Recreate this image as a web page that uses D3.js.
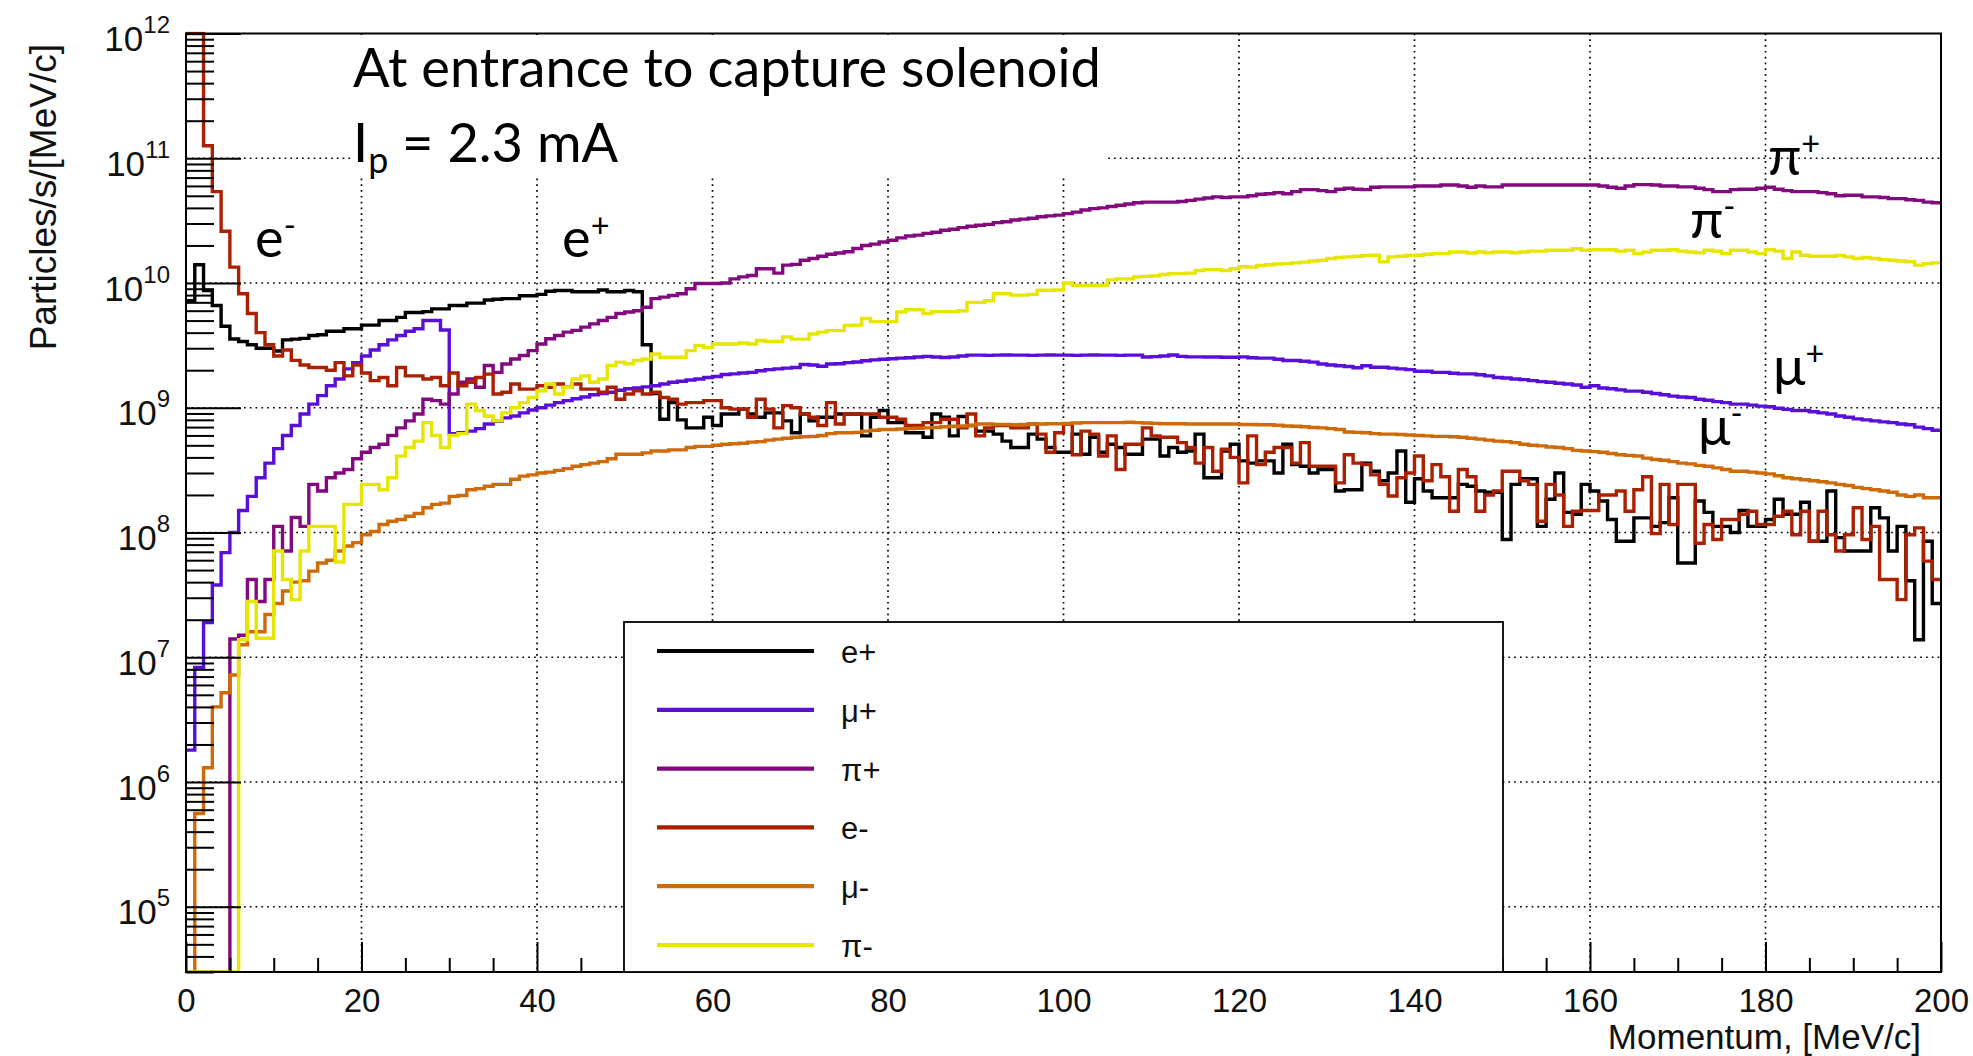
<!DOCTYPE html>
<html><head><meta charset="utf-8">
<script src="https://cdn.jsdelivr.net/npm/d3@7"></script>
<style>body{margin:0;background:#fff;} svg{display:block;}</style>
</head><body>
<svg id="chart" width="1973" height="1056"></svg>
<script>
// ---------------- DATA (1 MeV/c bins, 0..200) ----------------
const momentumDomain = [0, 200];
const xTickLabels = [0, 20, 40, 60, 80, 100, 120, 140, 160, 180, 200];
const yTickExponents = [5, 6, 7, 8, 9, 10, 11, 12];
const seriesNames = ["e+", "μ+", "π+", "e-", "μ-", "π-"];

const ePlus = [
7.2e9,1.4e10,8.7e9,6.6e9,4.5e9,3.56e9,3.4e9,3.2e9,3.0e9,3.0e9,
2.85e9,3.5e9,3.55e9,3.6e9,3.8e9,3.85e9,4.1e9,4.1e9,4.3e9,4.3e9,
4.6e9,4.6e9,5.0e9,5.0e9,5.3e9,5.8e9,5.8e9,5.9e9,6.2e9,6.2e9,
6.6e9,6.6e9,6.9e9,6.9e9,7.3e9,7.4e9,7.5e9,7.5e9,7.9e9,7.9e9,
8.1e9,8.6e9,8.7e9,8.7e9,8.5e9,8.5e9,8.5e9,8.8e9,8.5e9,8.5e9,
8.7e9,8.5e9,3.2e9,1.3e9,8.1e8,1.1e9,8.0e8,6.9e8,6.9e8,8.4e8,
7.2e8,8.9e8,8.9e8,9.75e8,8.9e8,8.4e8,9.1e8,9.1e8,7.85e8,6.3e8,
8.9e8,7.85e8,8.4e8,8.4e8,8.9e8,8.9e8,8.9e8,5.95e8,8.4e8,9.5e8,
7.6e8,7.6e8,6.3e8,6.3e8,5.8e8,8.9e8,8.4e8,5.95e8,8.5e8,7.2e8,
6.5e8,6.5e8,6.15e8,5.4e8,4.8e8,4.8e8,6.15e8,5.6e8,4.8e8,4.4e8,
4.4e8,6.15e8,4.24e8,5.8e8,4.4e8,5.1e8,4.8e8,4.24e8,4.24e8,5.6e8,
5.6e8,4.1e8,4.8e8,4.4e8,4.5e8,6.15e8,2.75e8,2.75e8,4.5e8,5.1e8,
3.75e8,3.6e8,3.75e8,3.75e8,3.0e8,5.1e8,3.5e8,3.4e8,3.0e8,3.2e8,
3.2e8,2.15e8,2.2e8,2.2e8,3.6e8,3.1e8,2.6e8,3.0e8,4.5e8,1.75e8,
2.7e8,2.15e8,1.9e8,1.9e8,1.9e8,2.43e8,2.35e8,2.15e8,2.1e8,2.1e8,
8.8e7,2.43e8,2.7e8,2.7e8,1.12e8,1.85e8,3.0e8,1.45e8,1.4e8,2.43e8,
2.15e8,1.79e8,1.27e8,8.5e7,8.5e7,1.31e8,1.31e8,1.12e8,1.2e8,1.9e8,
5.7e7,5.7e7,1.79e8,1.45e8,1.12e8,1.12e8,1.0e8,1.5e8,1.12e8,1.12e8,
1.27e8,1.85e8,1.4e8,1.4e8,1.75e8,8.5e7,8.5e7,2.15e8,9.1e7,7.1e7,
7.1e7,7.1e7,1.58e8,1.31e8,7.1e7,1.12e8,4.1e7,1.38e7,8.5e7,2.7e7
];

const muPlus = [
1.8e6,8.3e6,1.9e7,3.8e7,6.9e7,1.0e8,1.5e8,1.95e8,2.75e8,3.6e8,
4.7e8,6.0e8,7.2e8,8.9e8,1.07e9,1.25e9,1.5e9,1.7e9,2.05e9,2.3e9,
2.6e9,2.9e9,3.2e9,3.5e9,3.8e9,4.1e9,4.3e9,5.0e9,5.0e9,4.2e9,
6.2e8,6.3e8,6.5e8,6.8e8,7.4e8,7.8e8,8.3e8,8.6e8,9.1e8,9.6e8,
1.0e9,1.05e9,1.1e9,1.14e9,1.18e9,1.22e9,1.27e9,1.3e9,1.33e9,1.38e9,
1.42e9,1.44e9,1.47e9,1.5e9,1.55e9,1.6e9,1.63e9,1.67e9,1.7e9,1.75e9,
1.78e9,1.85e9,1.87e9,1.9e9,1.92e9,1.98e9,2.02e9,2.05e9,2.08e9,2.1e9,
2.22e9,2.2e9,2.15e9,2.24e9,2.25e9,2.3e9,2.33e9,2.38e9,2.42e9,2.45e9,
2.47e9,2.5e9,2.52e9,2.55e9,2.58e9,2.55e9,2.53e9,2.55e9,2.6e9,2.64e9,
2.64e9,2.63e9,2.64e9,2.65e9,2.64e9,2.64e9,2.63e9,2.64e9,2.65e9,2.64e9,
2.64e9,2.63e9,2.64e9,2.65e9,2.64e9,2.64e9,2.63e9,2.64e9,2.64e9,2.55e9,
2.57e9,2.6e9,2.65e9,2.58e9,2.56e9,2.56e9,2.55e9,2.55e9,2.54e9,2.54e9,
2.56e9,2.52e9,2.5e9,2.5e9,2.45e9,2.39e9,2.39e9,2.36e9,2.32e9,2.24e9,
2.2e9,2.17e9,2.14e9,2.09e9,2.17e9,2.11e9,2.11e9,2.08e9,2.05e9,2.02e9,
1.96e9,1.96e9,1.92e9,1.92e9,1.89e9,1.87e9,1.87e9,1.84e9,1.8e9,1.75e9,
1.73e9,1.7e9,1.68e9,1.65e9,1.62e9,1.6e9,1.57e9,1.55e9,1.52e9,1.46e9,
1.5e9,1.44e9,1.42e9,1.39e9,1.36e9,1.36e9,1.33e9,1.3e9,1.27e9,1.24e9,
1.22e9,1.21e9,1.17e9,1.15e9,1.12e9,1.1e9,1.07e9,1.07e9,1.05e9,1.03e9,
1.02e9,9.9e8,9.7e8,9.5e8,9.5e8,9.3e8,9.1e8,8.9e8,8.6e8,8.4e8,
8.15e8,8.0e8,7.85e8,7.7e8,7.6e8,7.4e8,7.3e8,7.0e8,6.8e8,6.6e8
];

const piPlus = [
0,0,0,0,0,1.4e7,1.5e7,4.2e7,2.8e7,4.2e7,
1.12e8,7.1e7,1.32e8,1.12e8,2.43e8,2.15e8,2.75e8,3.0e8,3.2e8,3.9e8,
4.4e8,4.8e8,5.1e8,6.0e8,6.9e8,7.85e8,8.9e8,1.17e9,1.14e9,1.07e9,
1.29e9,1.6e9,1.7e9,1.46e9,2.18e9,1.92e9,2.24e9,2.46e9,2.62e9,2.87e9,
3.24e9,3.57e9,3.8e9,4.04e9,4.17e9,4.43e9,4.7e9,5.0e9,5.3e9,5.7e9,
5.85e9,6.0e9,6.4e9,7.5e9,7.7e9,7.95e9,8.2e9,9.0e9,9.9e9,9.9e9,
9.9e9,1.0e10,1.08e10,1.12e10,1.15e10,1.3e10,1.3e10,1.2e10,1.39e10,1.41e10,
1.52e10,1.57e10,1.64e10,1.7e10,1.74e10,1.78e10,1.89e10,2.0e10,2.05e10,2.13e10,
2.2e10,2.3e10,2.38e10,2.42e10,2.5e10,2.55e10,2.65e10,2.7e10,2.78e10,2.85e10,
2.9e10,2.95e10,3.05e10,3.1e10,3.2e10,3.25e10,3.3e10,3.4e10,3.45e10,3.5e10,
3.6e10,3.7e10,3.85e10,3.95e10,4.0e10,4.1e10,4.2e10,4.3e10,4.4e10,4.45e10,
4.45e10,4.45e10,4.45e10,4.5e10,4.6e10,4.7e10,4.8e10,4.9e10,4.85e10,4.9e10,
4.9e10,5.0e10,5.15e10,5.2e10,5.3e10,5.2e10,5.4e10,5.6e10,5.6e10,5.5e10,
5.4e10,5.65e10,5.75e10,5.65e10,5.6e10,5.85e10,5.9e10,5.9e10,5.9e10,5.9e10,
6.0e10,6.0e10,6.0e10,6.1e10,6.1e10,6.0e10,5.85e10,6.0e10,5.9e10,5.9e10,
6.1e10,6.1e10,6.1e10,6.1e10,6.1e10,6.1e10,6.1e10,6.1e10,6.1e10,6.1e10,
6.1e10,6.0e10,5.85e10,5.75e10,6.0e10,6.15e10,6.15e10,6.1e10,6.0e10,6.0e10,
5.9e10,5.9e10,5.75e10,5.6e10,5.4e10,5.4e10,5.6e10,5.65e10,5.65e10,5.75e10,
5.85e10,5.65e10,5.5e10,5.4e10,5.4e10,5.4e10,5.3e10,5.2e10,5.0e10,5.05e10,
5.05e10,4.9e10,4.9e10,4.85e10,4.75e10,4.75e10,4.65e10,4.6e10,4.45e10,4.4e10
];

const eMinus = [
1e12,1e12,1.26e11,5.4e10,2.6e10,1.34e10,8.2e9,5.7e9,4.0e9,3.2e9,
2.6e9,2.9e9,2.4e9,2.2e9,2.1e9,2.1e9,2.0e9,2.3e9,1.8e9,2.2e9,
1.9e9,1.65e9,1.75e9,1.5e9,2.1e9,1.8e9,1.8e9,1.7e9,1.75e9,1.5e9,
1.9e9,1.5e9,1.6e9,1.75e9,1.86e9,1.29e9,1.33e9,1.55e9,1.41e9,1.41e9,
1.5e9,1.46e9,1.55e9,1.46e9,1.55e9,1.41e9,1.41e9,1.33e9,1.46e9,1.17e9,
1.29e9,1.37e9,1.29e9,1.33e9,1.21e9,1.17e9,1.07e9,1.1e9,1.1e9,1.14e9,
1.14e9,1.0e9,9.75e8,9.75e8,8.4e8,1.17e9,9.75e8,6.9e8,1.04e9,1.0e9,
8.9e8,8.4e8,7.2e8,1.1e9,7.4e8,8.9e8,8.9e8,8.9e8,8.9e8,8.4e8,
8.4e8,8.1e8,7.2e8,7.2e8,7.6e8,7.6e8,8.1e8,8.1e8,6.9e8,8.9e8,
5.95e8,6.9e8,7.2e8,7.2e8,6.9e8,6.9e8,7.4e8,6.15e8,4.4e8,6.3e8,
7.4e8,4.2e8,6.5e8,6.15e8,4.1e8,5.95e8,3.2e8,5.1e8,5.1e8,6.9e8,
5.95e8,5.8e8,5.8e8,5.25e8,4.8e8,3.6e8,4.8e8,3.1e8,4.65e8,4.0e8,
2.5e8,5.95e8,3.5e8,4.4e8,4.8e8,4.8e8,3.6e8,5.25e8,3.4e8,3.4e8,
3.4e8,2.5e8,4.2e8,3.6e8,3.5e8,2.9e8,2.43e8,1.96e8,2.75e8,3.0e8,
4.1e8,2.6e8,3.5e8,2.8e8,1.48e8,3.2e8,2.8e8,1.48e8,2.0e8,2.15e8,
3.1e8,3.1e8,2.6e8,2.43e8,1.23e8,2.43e8,2.0e8,1.12e8,1.48e8,1.5e8,
1.5e8,2.0e8,2.0e8,2.15e8,1.48e8,2.2e8,2.8e8,9.8e7,2.43e8,1.16e8,
2.43e8,2.43e8,8.2e7,1.16e8,8.8e7,1.27e8,1.27e8,1.4e8,1.48e8,1.16e8,
1.16e8,1.35e8,1.48e8,9.6e7,1.48e8,8.5e7,1.48e8,9.6e7,7.1e7,9.6e7,
1.58e8,8.8e7,1.12e8,4.2e7,4.2e7,2.9e7,9.6e7,1.09e8,5.9e7,4.2e7
];

const muMinus = [
0,5.6e5,1.3e6,4.0e6,5.2e6,7.2e6,1.26e7,1.6e7,1.6e7,2.2e7,
2.7e7,3.4e7,4.0e7,4.1e7,4.9e7,5.7e7,6.0e7,7.1e7,7.8e7,8.3e7,
9.6e7,1.02e8,1.16e8,1.23e8,1.27e8,1.35e8,1.42e8,1.58e8,1.68e8,1.72e8,
1.95e8,1.98e8,2.2e8,2.25e8,2.35e8,2.43e8,2.43e8,2.67e8,2.83e8,2.9e8,
3.0e8,3.05e8,3.15e8,3.25e8,3.4e8,3.5e8,3.6e8,3.7e8,3.9e8,4.24e8,
4.24e8,4.24e8,4.35e8,4.5e8,4.5e8,4.6e8,4.6e8,4.8e8,4.9e8,4.9e8,
5.0e8,5.1e8,5.15e8,5.2e8,5.3e8,5.35e8,5.5e8,5.6e8,5.7e8,5.8e8,
5.85e8,5.9e8,6.0e8,6.2e8,6.3e8,6.3e8,6.35e8,6.5e8,6.6e8,6.7e8,
6.7e8,6.75e8,6.8e8,6.85e8,6.9e8,6.95e8,7.05e8,7.1e8,7.15e8,7.2e8,
7.4e8,7.4e8,7.35e8,7.35e8,7.3e8,7.35e8,7.4e8,7.4e8,7.45e8,7.45e8,
7.5e8,7.55e8,7.6e8,7.6e8,7.6e8,7.6e8,7.6e8,7.65e8,7.6e8,7.55e8,
7.5e8,7.45e8,7.45e8,7.45e8,7.4e8,7.4e8,7.4e8,7.4e8,7.4e8,7.4e8,
7.35e8,7.35e8,7.3e8,7.3e8,7.25e8,7.15e8,7.1e8,7.05e8,6.95e8,6.9e8,
6.8e8,6.7e8,6.4e8,6.35e8,6.3e8,6.2e8,6.15e8,6.15e8,6.1e8,6.05e8,
6.0e8,5.95e8,5.9e8,5.9e8,5.85e8,5.8e8,5.7e8,5.6e8,5.5e8,5.4e8,
5.35e8,5.25e8,5.1e8,5.0e8,4.95e8,4.85e8,4.8e8,4.7e8,4.55e8,4.5e8,
4.45e8,4.4e8,4.3e8,4.2e8,4.15e8,4.1e8,3.95e8,3.85e8,3.8e8,3.7e8,
3.6e8,3.55e8,3.45e8,3.4e8,3.3e8,3.2e8,3.1e8,3.1e8,3.05e8,3.0e8,
2.95e8,2.85e8,2.75e8,2.7e8,2.65e8,2.6e8,2.55e8,2.5e8,2.43e8,2.38e8,
2.3e8,2.25e8,2.2e8,2.15e8,2.1e8,2.0e8,1.95e8,2.0e8,1.9e8,1.9e8
];

const piMinus = [
0,0,0,0,0,0,1.38e7,2.8e7,1.42e7,1.42e7,
7.1e7,4.2e7,2.9e7,7.1e7,1.12e8,1.12e8,1.12e8,5.8e7,1.68e8,1.68e8,
2.43e8,2.43e8,2.2e8,2.75e8,4.1e8,4.8e8,5.4e8,7.6e8,6.0e8,4.8e8,
6.0e8,6.2e8,1.07e9,9.5e8,8.6e8,7.85e8,9.1e8,1.0e9,1.1e9,1.21e9,
1.37e9,1.55e9,1.29e9,1.46e9,1.7e9,1.8e9,1.6e9,1.7e9,2.18e9,2.32e9,
2.25e9,2.39e9,2.46e9,2.7e9,2.54e9,2.54e9,2.54e9,2.87e9,3.16e9,3.05e9,
3.24e9,3.24e9,3.24e9,3.3e9,3.24e9,3.46e9,3.4e9,3.4e9,3.7e9,3.55e9,
3.55e9,3.9e9,4.04e9,4.15e9,4.15e9,4.57e9,4.6e9,5.2e9,4.9e9,4.9e9,
4.9e9,5.85e9,6.1e9,6.1e9,5.7e9,5.9e9,5.9e9,5.9e9,6.0e9,7.0e9,
7.0e9,7.2e9,8.2e9,8.2e9,8.0e9,8.0e9,8.1e9,8.75e9,8.75e9,8.8e9,
1.0e10,9.6e9,9.6e9,9.6e9,9.6e9,1.06e10,1.08e10,1.08e10,1.12e10,1.13e10,
1.14e10,1.17e10,1.19e10,1.19e10,1.2e10,1.26e10,1.28e10,1.28e10,1.26e10,1.3e10,
1.35e10,1.34e10,1.38e10,1.4e10,1.42e10,1.43e10,1.45e10,1.47e10,1.5e10,1.52e10,
1.57e10,1.6e10,1.62e10,1.64e10,1.66e10,1.67e10,1.48e10,1.62e10,1.64e10,1.66e10,
1.67e10,1.7e10,1.72e10,1.72e10,1.77e10,1.77e10,1.74e10,1.77e10,1.75e10,1.77e10,
1.77e10,1.75e10,1.77e10,1.8e10,1.8e10,1.83e10,1.83e10,1.83e10,1.88e10,1.83e10,
1.85e10,1.85e10,1.85e10,1.8e10,1.83e10,1.72e10,1.77e10,1.83e10,1.83e10,1.85e10,
1.8e10,1.77e10,1.75e10,1.83e10,1.8e10,1.72e10,1.83e10,1.83e10,1.77e10,1.72e10,
1.85e10,1.8e10,1.57e10,1.77e10,1.67e10,1.64e10,1.64e10,1.64e10,1.66e10,1.62e10,
1.57e10,1.6e10,1.57e10,1.54e10,1.52e10,1.5e10,1.48e10,1.39e10,1.43e10,1.45e10
];

// ---------------- STYLE / LAYOUT ----------------
const seriesColors = ["#000000", "#5a0fd8", "#820a7e", "#ab2000", "#cf6a08", "#e6e600"];
const seriesData = [ePlus, muPlus, piPlus, eMinus, muMinus, piMinus];

const W = 1973, H = 1056;
const m = {left: 186, right: 1941, top: 33.5, bottom: 972};
const yMin = 3e4, yMax = 1e12;

const svg = d3.select("#chart");
svg.append("rect").attr("width", W).attr("height", H).attr("fill", "#fff");

const x = d3.scaleLinear().domain(momentumDomain).range([m.left, m.right]);
const y = d3.scaleLog().domain([yMin, yMax]).range([m.bottom, m.top]);

const labelFont = '"Liberation Sans", Arial, Helvetica, sans-serif';

// grid
const gridStyle = g => g.attr("stroke", "#000").attr("stroke-width", 1.7).attr("stroke-dasharray", "1.7 4.1");
const gGrid = svg.append("g");
gGrid.selectAll("line.gx").data(xTickLabels.filter(v => v > 0 && v < 200)).join("line")
  .attr("x1", d => x(d)).attr("x2", d => x(d)).attr("y1", m.top).attr("y2", m.bottom).call(gridStyle);
gGrid.selectAll("line.gy").data(yTickExponents.filter(e => e < 12).map(e => Math.pow(10, e))).join("line")
  .attr("x1", m.left).attr("x2", m.right).attr("y1", d => y(d)).attr("y2", d => y(d)).call(gridStyle);

// white box behind the annotation text
svg.append("rect").attr("x", 350).attr("y", m.top + 1.5).attr("width", 757).attr("height", 143).attr("fill", "#fff");

// histograms
svg.append("clipPath").attr("id", "plotclip").append("rect")
  .attr("x", m.left).attr("y", m.top - 2).attr("width", m.right - m.left).attr("height", m.bottom - m.top + 2);
const stepLine = d3.line()
  .x(d => x(d[0]))
  .y(d => y(Math.min(yMax, Math.max(yMin, d[1] || yMin))))
  .curve(d3.curveStepAfter);
const gData = svg.append("g").attr("clip-path", "url(#plotclip)");
seriesData.forEach((vals, k) => {
  const pts = vals.map((v, i) => [i, v]);
  pts.push([vals.length, vals[vals.length - 1]]);
  gData.append("path").attr("d", stepLine(pts)).attr("fill", "none")
    .attr("stroke", seriesColors[k]).attr("stroke-width", 3.4).attr("stroke-linejoin", "miter");
});

// axes
const xMinor = d3.range(0, 201, 5).filter(v => v % 20 !== 0);
const gxMinor = svg.append("g").attr("transform", `translate(0,${m.bottom})`)
  .call(d3.axisBottom(x).tickValues(xMinor).tickSizeInner(-14).tickSizeOuter(0).tickFormat(""));
const gx = svg.append("g").attr("transform", `translate(0,${m.bottom})`)
  .call(d3.axisBottom(x).tickValues(xTickLabels).tickSizeInner(-30).tickSizeOuter(0).tickFormat(d3.format("d")));
[gxMinor, gx].forEach(g => { g.select(".domain").remove(); g.selectAll("line").attr("stroke", "#000").attr("stroke-width", 2); });
gx.selectAll("text").attr("y", 40).attr("dy", null).attr("fill", "#111")
  .style("font-family", labelFont).style("font-size", "33px");

const yMajor = yTickExponents.map(e => Math.pow(10, e));
const yMinorVals = [];
for (let e = 4; e < 12; e++) for (let k = 2; k <= 9; k++) { const v = k * Math.pow(10, e); if (v >= yMin && v <= yMax) yMinorVals.push(v); }
const gyMinor = svg.append("g").attr("transform", `translate(${m.left},0)`)
  .call(d3.axisLeft(y).tickValues(yMinorVals).tickSizeInner(-28).tickSizeOuter(0).tickFormat(""));
const gy = svg.append("g").attr("transform", `translate(${m.left},0)`)
  .call(d3.axisLeft(y).tickValues(yMajor).tickSizeInner(-55).tickSizeOuter(0).tickFormat(""));
[gyMinor, gy].forEach(g => { g.select(".domain").remove(); g.selectAll("line").attr("stroke", "#000").attr("stroke-width", 2); });
gy.selectAll(".tick text").each(function(d) {
  const t = d3.select(this);
  t.text("").attr("x", -16).attr("y", 17).attr("dy", null).attr("fill", "#111")
    .style("font-family", labelFont).style("font-size", "35px").attr("text-anchor", "end");
  t.append("tspan").text("10");
  t.append("tspan").attr("dy", -18).style("font-size", "24px").text(Math.round(Math.log10(d)));
});

// frame
svg.append("rect").attr("x", m.left).attr("y", m.top).attr("width", m.right - m.left).attr("height", m.bottom - m.top)
  .attr("fill", "none").attr("stroke", "#000").attr("stroke-width", 2);

// axis titles
svg.append("text").attr("transform", "translate(56,44) rotate(-90)").attr("text-anchor", "end")
  .style("font-family", labelFont).style("font-size", "37px").attr("fill", "#111").text("Particles/s/[MeV/c]");
svg.append("text").attr("x", 1921).attr("y", 1049).attr("text-anchor", "end")
  .style("font-family", labelFont).style("font-size", "35px").attr("fill", "#111").text("Momentum, [MeV/c]");

// legend
const legend = svg.append("g");
legend.append("rect").attr("x", 624).attr("y", 622).attr("width", 879).attr("height", m.bottom - 622)
  .attr("fill", "#fff").attr("stroke", "#000").attr("stroke-width", 1.8);
seriesNames.forEach((name, i) => {
  const ly = 651 + i * 58.8;
  legend.append("line").attr("x1", 657).attr("x2", 814).attr("y1", ly).attr("y2", ly)
    .attr("stroke", seriesColors[i]).attr("stroke-width", 4.2);
  legend.append("text").attr("x", 841).attr("y", ly + 12).style("font-family", labelFont)
    .style("font-size", "31px").attr("fill", "#111").text(name);
});

// annotations
const annFont = 'Lato, "Open Sans", "DejaVu Sans", sans-serif';
const ann = svg.append("g").style("font-family", annFont).attr("fill", "#000");
const t1 = ann.append("text").attr("x", 353).attr("y", 87).style("font-size", "54px").text("At entrance to capture solenoid");
const fs = 54 * 748 / t1.node().getComputedTextLength();
t1.style("font-size", fs + "px");
const t2 = ann.append("text").attr("x", 353).attr("y", 162).style("font-size", fs + "px");
t2.append("tspan").text("I");
t2.append("tspan").attr("dy", fs * 0.2).style("font-size", (fs * 0.66) + "px").text("p");
t2.append("tspan").attr("dy", -fs * 0.2).text(" = 2.3 mA");

function particleLabel(px, py, base, sign) {
  const t = ann.append("text").attr("x", px).attr("y", py).style("font-size", fs + "px");
  t.append("tspan").text(base);
  t.append("tspan").attr("dy", -fs * 0.36).style("font-size", (fs * 0.6) + "px").text(sign);
}
particleLabel(255, 257, "e", "-");
particleLabel(562, 257, "e", "+");
particleLabel(1768, 175, "π", "+");
particleLabel(1690, 238, "π", "-");
particleLabel(1773, 385, "μ", "+");
particleLabel(1698, 445, "μ", "-");
</script>
</body></html>
